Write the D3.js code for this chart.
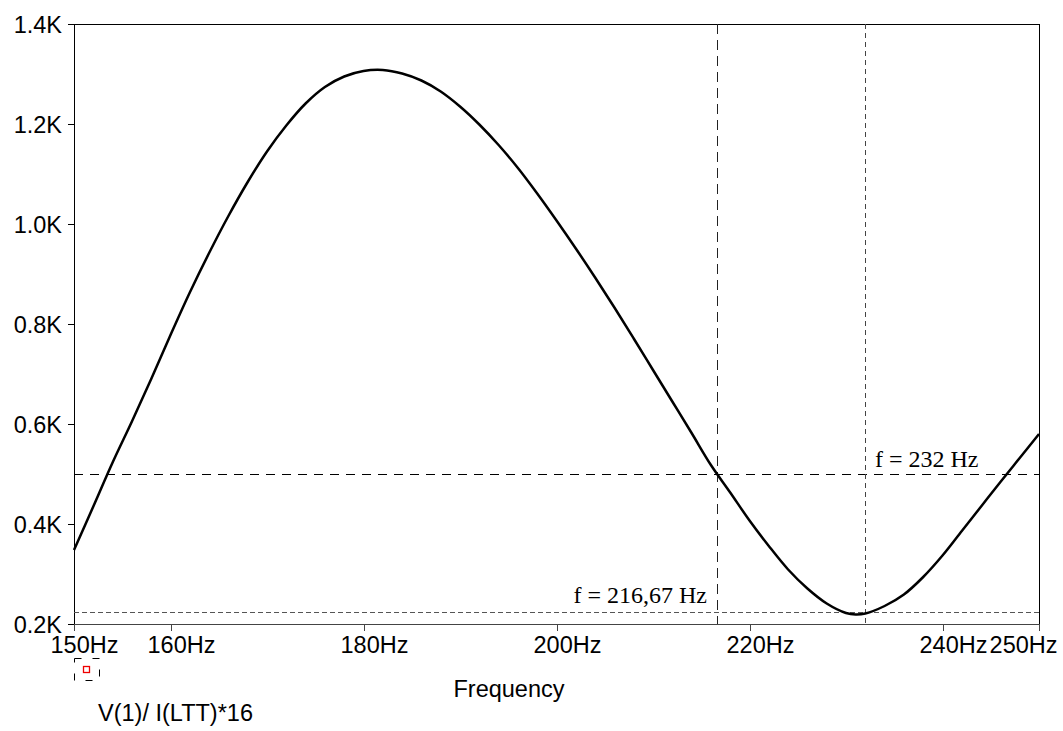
<!DOCTYPE html>
<html>
<head>
<meta charset="utf-8">
<script src="https://cdn.jsdelivr.net/npm/d3@7"></script>
<style>
    body { margin: 0; background: #fff; }
    svg { display: block; }
    .lbl { font-family: "Liberation Sans", Arial, sans-serif; font-size: 23.5px; fill: #000; }
    .note { font-family: "Liberation Serif", "Times New Roman", serif; font-size: 24px; fill: #000; }
</style>
</head>
<body>
<svg id="chart" width="1063" height="731"></svg>
<script>
// frequency (Hz) and V(1)/I(LTT)*16 (K)
var freq = [150, 152, 154, 156, 158, 160, 162, 164, 166, 168, 170, 172, 174, 176, 178, 180,
    182, 184, 186, 188, 190, 192, 194, 196, 198, 200, 202, 204, 206, 208, 210, 212, 214, 216,
    218, 220, 222, 224, 226, 228, 230, 231, 232, 234, 236, 238, 240, 242, 244, 246, 248, 250];
var value = [0.348, 0.435, 0.523, 0.605, 0.690, 0.778, 0.863, 0.942, 1.016, 1.084, 1.145, 1.197,
    1.241, 1.274, 1.295, 1.306, 1.308, 1.301, 1.287, 1.265, 1.235, 1.199, 1.158, 1.112, 1.061,
    1.007, 0.951, 0.893, 0.833, 0.771, 0.708, 0.645, 0.582, 0.518, 0.463, 0.407, 0.356, 0.309,
    0.271, 0.241, 0.222, 0.219, 0.221, 0.236, 0.259, 0.294, 0.337, 0.386, 0.435, 0.484, 0.532, 0.580];

var xTicks = [150, 160, 180, 200, 220, 240, 250];
var yTicks = [0.2, 0.4, 0.6, 0.8, 1.0, 1.2, 1.4];

// cursor markers
var hMarks = [0.5, 0.225];
var vMarks = [216.67, 232];
var markNotes = ["f = 232 Hz", "f = 216,67 Hz"];

var svg = d3.select("#chart");
var x = d3.scaleLinear().domain([150, 250]).range([74, 1039]);
var y = d3.scaleLinear().domain([0.2, 1.4]).range([624, 24]);

var pts = freq.map(function (f, i) { return [f, value[i]]; });

// frame
var frame = svg.append("g").attr("stroke", "#000").attr("stroke-width", 1).attr("fill", "none");
frame.append("line").attr("x1", x(150) + 0.5).attr("x2", x(150) + 0.5).attr("y1", y(1.4)).attr("y2", y(0.2));
frame.append("line").attr("x1", x(250) + 0.5).attr("x2", x(250) + 0.5).attr("y1", y(1.4)).attr("y2", y(0.2));
frame.append("line").attr("x1", x(150)).attr("x2", x(250) + 1).attr("y1", y(1.4) + 0.5).attr("y2", y(1.4) + 0.5);
frame.append("line").attr("x1", x(150)).attr("x2", x(250) + 1).attr("y1", y(0.2) + 0.5).attr("y2", y(0.2) + 0.5)
    .attr("stroke", "#444");

// y axis ticks + labels
yTicks.forEach(function (v) {
    var yy = Math.round(y(v)) + 0.5;
    svg.append("line").attr("x1", 68).attr("x2", 74).attr("y1", yy).attr("y2", yy)
        .attr("stroke", "#000");
    svg.append("text").attr("class", "lbl").attr("x", 62).attr("y", yy).attr("dy", "0.35em")
        .attr("text-anchor", "end").text(d3.format(".1f")(v) + "K");
});

// x axis ticks + labels
xTicks.forEach(function (f, i) {
    var xx = Math.round(x(f)) + 0.5;
    svg.append("line").attr("x1", xx).attr("x2", xx).attr("y1", 624).attr("y2", 631)
        .attr("stroke", "#444");
    var last = (i === xTicks.length - 1);
    svg.append("text").attr("class", "lbl")
        .attr("x", last ? xx + 18 : xx + 10).attr("y", 653)
        .attr("text-anchor", last ? "end" : "middle").text(f + "Hz");
});

// cursor lines
svg.append("line").attr("x1", x(150)).attr("x2", x(250)).attr("y1", Math.round(y(hMarks[0])) + 0.5)
    .attr("y2", Math.round(y(hMarks[0])) + 0.5).attr("stroke", "#000").attr("stroke-dasharray", "9,7");
svg.append("line").attr("x1", x(150)).attr("x2", x(250)).attr("y1", Math.round(y(hMarks[1])) + 0.5)
    .attr("y2", Math.round(y(hMarks[1])) + 0.5).attr("stroke", "#555").attr("stroke-dasharray", "5,3");
svg.append("line").attr("x1", Math.round(x(vMarks[0])) + 0.5).attr("x2", Math.round(x(vMarks[0])) + 0.5)
    .attr("y1", y(1.4)).attr("y2", y(0.2)).attr("stroke", "#222").attr("stroke-dasharray", "10,6");
svg.append("line").attr("x1", Math.round(x(vMarks[1])) + 0.5).attr("x2", Math.round(x(vMarks[1])) + 0.5)
    .attr("y1", y(1.4)).attr("y2", y(0.2)).attr("stroke", "#444").attr("stroke-dasharray", "5,4");

svg.append("text").attr("class", "note").attr("x", 875).attr("y", 467).text(markNotes[0]);
svg.append("text").attr("class", "note").attr("x", 707).attr("y", 603)
    .attr("text-anchor", "end").text(markNotes[1]);

// trace
var line = d3.line()
    .x(function (d) { return x(d[0]); })
    .y(function (d) { return y(d[1]); })
    .curve(d3.curveCatmullRom.alpha(0.5));
svg.append("path").datum(pts).attr("d", line)
    .attr("fill", "none").attr("stroke", "#000").attr("stroke-width", 2.5);

// axis title
svg.append("text").attr("class", "lbl").attr("x", 509).attr("y", 697)
    .attr("text-anchor", "middle").text("Frequency");

// legend
svg.append("rect").attr("x", 74.5).attr("y", 658.5).attr("width", 25).attr("height", 22)
    .attr("fill", "none").attr("stroke", "#000").attr("stroke-dasharray", "7,11");
svg.append("rect").attr("x", 83.5).attr("y", 666.5).attr("width", 6).attr("height", 6)
    .attr("fill", "#fff").attr("stroke", "#e00").attr("stroke-width", 1.3);
svg.append("text").attr("class", "lbl").attr("x", 98).attr("y", 721).text("V(1)/ I(LTT)*16");
</script>
</body>
</html>
